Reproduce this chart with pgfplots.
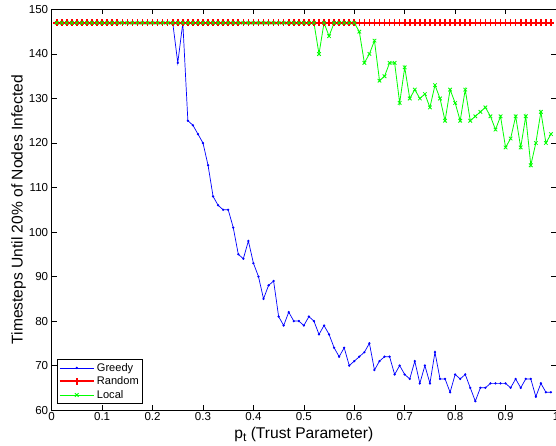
\documentclass[border=0pt]{standalone}
\usepackage{pgfplots}
\pgfplotsset{compat=1.18}
\usepackage{fontspec}
\setmainfont{Liberation Sans}

\begin{document}
\begin{tikzpicture}[trim axis right]
\begin{axis}[
    width=501pt, height=398pt,
    scale only axis,
    xmin=0, xmax=1, ymin=60, ymax=150,
    xtick={0,0.1,0.2,0.3,0.4,0.5,0.6,0.7,0.8,0.9,1},
    xticklabels={0,0.1,0.2,0.3,0.4,0.5,0.6,0.7,0.8,0.9,1},
    ytick={60,70,80,90,100,110,120,130,140,150},
    /pgf/number format/assume math mode=true,
    tick align=inside,
    major tick length=5pt,
    tick style={black, line width=0.6pt},
    axis line style={black, line width=0.8pt},
    tick label style={font=\fontsize{11.5}{13}\selectfont},
    xticklabel style={yshift=1pt},
    label style={font=\fontsize{15.5}{18}\selectfont},
    xlabel={p\raisebox{-0.45ex}{\fontsize{12}{12}\selectfont t} (Trust Parameter)},
    ylabel={Timesteps Until 20\% of Nodes Infected},
    xlabel style={yshift=1pt},
    ylabel style={yshift=-4pt},
    legend cell align=left,
    legend style={at={(0.01,0.016)}, anchor=south west, draw=black,
      line width=0.8pt, font=\fontsize{11}{13}\selectfont,
      inner sep=1.5pt, row sep=0pt},
    legend image code/.code={
      \draw[mark repeat=2, mark phase=2] plot coordinates {(0pt,0pt) (17pt,0pt) (34pt,0pt)};},
]
% Greedy
\addplot[blue, line width=0.7pt, mark=*, mark size=0.75pt] coordinates {
(0.01,147)(0.02,147)(0.03,147)(0.04,147)(0.05,147)(0.06,147)(0.07,147)(0.08,147)
(0.09,147)(0.10,147)(0.11,147)(0.12,147)(0.13,147)(0.14,147)(0.15,147)(0.16,147)
(0.17,147)(0.18,147)(0.19,147)(0.20,147)(0.21,147)(0.22,147)(0.23,147)(0.24,147)
(0.25,138)(0.26,147)(0.27,125)(0.28,124)(0.29,122)(0.30,120)(0.31,115)(0.32,108)
(0.33,106)(0.34,105)(0.35,105)(0.36,101)(0.37,95)(0.38,94)(0.39,98)(0.40,93)
(0.41,90)(0.42,85)(0.43,88)(0.44,89)(0.45,81)(0.46,79)(0.47,82)(0.48,80)
(0.49,80)(0.50,79)(0.51,81)(0.52,80)(0.53,77)(0.54,79)(0.55,77)(0.56,74)
(0.57,72)(0.58,74)(0.59,70)(0.60,71)(0.61,72)(0.62,73)(0.63,75)(0.64,69)
(0.65,71)(0.66,72)(0.67,72)(0.68,68)(0.69,70)(0.70,68)(0.71,67)(0.72,71)
(0.73,66)(0.74,70)(0.75,66)(0.76,73)(0.77,67)(0.78,67)(0.79,64)(0.80,68)
(0.81,67)(0.82,68)(0.83,65)(0.84,62)(0.85,65)(0.86,65)(0.87,66)(0.88,66)
(0.89,66)(0.90,66)(0.91,65)(0.92,67)(0.93,65)(0.94,67)(0.95,67)(0.96,63)
(0.97,66)(0.98,64)(0.99,64)
};
\addlegendentry{Greedy}
% Random
\addplot[red, line width=2pt, mark=+, mark size=3.3pt, mark options={line width=1.6pt}] coordinates {
(0.01,147)(0.02,147)(0.03,147)(0.04,147)(0.05,147)(0.06,147)(0.07,147)(0.08,147)
(0.09,147)(0.10,147)(0.11,147)(0.12,147)(0.13,147)(0.14,147)(0.15,147)(0.16,147)
(0.17,147)(0.18,147)(0.19,147)(0.20,147)(0.21,147)(0.22,147)(0.23,147)(0.24,147)
(0.25,147)(0.26,147)(0.27,147)(0.28,147)(0.29,147)(0.30,147)(0.31,147)(0.32,147)
(0.33,147)(0.34,147)(0.35,147)(0.36,147)(0.37,147)(0.38,147)(0.39,147)(0.40,147)
(0.41,147)(0.42,147)(0.43,147)(0.44,147)(0.45,147)(0.46,147)(0.47,147)(0.48,147)
(0.49,147)(0.50,147)(0.51,147)(0.52,147)(0.53,147)(0.54,147)(0.55,147)(0.56,147)
(0.57,147)(0.58,147)(0.59,147)(0.60,147)(0.61,147)(0.62,147)(0.63,147)(0.64,147)
(0.65,147)(0.66,147)(0.67,147)(0.68,147)(0.69,147)(0.70,147)(0.71,147)(0.72,147)
(0.73,147)(0.74,147)(0.75,147)(0.76,147)(0.77,147)(0.78,147)(0.79,147)(0.80,147)
(0.81,147)(0.82,147)(0.83,147)(0.84,147)(0.85,147)(0.86,147)(0.87,147)(0.88,147)
(0.89,147)(0.90,147)(0.91,147)(0.92,147)(0.93,147)(0.94,147)(0.95,147)(0.96,147)
(0.97,147)(0.98,147)(0.99,147)
};
\addlegendentry{Random}
% Local
\addplot[green, line width=0.8pt, mark=x, mark size=2.5pt] coordinates {
(0.01,147)(0.02,147)(0.03,147)(0.04,147)(0.05,147)(0.06,147)(0.07,147)(0.08,147)
(0.09,147)(0.10,147)(0.11,147)(0.12,147)(0.13,147)(0.14,147)(0.15,147)(0.16,147)
(0.17,147)(0.18,147)(0.19,147)(0.20,147)(0.21,147)(0.22,147)(0.23,147)(0.24,147)
(0.25,147)(0.26,147)(0.27,147)(0.28,147)(0.29,147)(0.30,147)(0.31,147)(0.32,147)
(0.33,147)(0.34,147)(0.35,147)(0.36,147)(0.37,147)(0.38,147)(0.39,147)(0.40,147)
(0.41,147)(0.42,147)(0.43,147)(0.44,147)(0.45,147)(0.46,147)(0.47,147)(0.48,147)
(0.49,147)(0.50,147)(0.51,147)(0.52,147)(0.53,140)(0.54,147)(0.55,144)(0.56,147)
(0.57,147)(0.58,147)(0.59,147)(0.60,147)(0.61,145)(0.62,138)(0.63,140)(0.64,143)
(0.65,134)(0.66,135)(0.67,138)(0.68,138)(0.69,129)(0.70,137)(0.71,130)(0.72,132)
(0.73,130)(0.74,131)(0.75,128)(0.76,133)(0.77,130)(0.78,125)(0.79,132)(0.80,129)
(0.81,125)(0.82,132)(0.83,125)(0.84,126)(0.85,127)(0.86,128)(0.87,126)(0.88,123)
(0.89,126)(0.90,119)(0.91,121)(0.92,126)(0.93,119)(0.94,126)(0.95,115)(0.96,120)
(0.97,127)(0.98,120)(0.99,122)
};
\addlegendentry{Local}
\end{axis}
\path ([xshift=-8pt,yshift=2pt]current bounding box.north west);
\end{tikzpicture}
\end{document}
